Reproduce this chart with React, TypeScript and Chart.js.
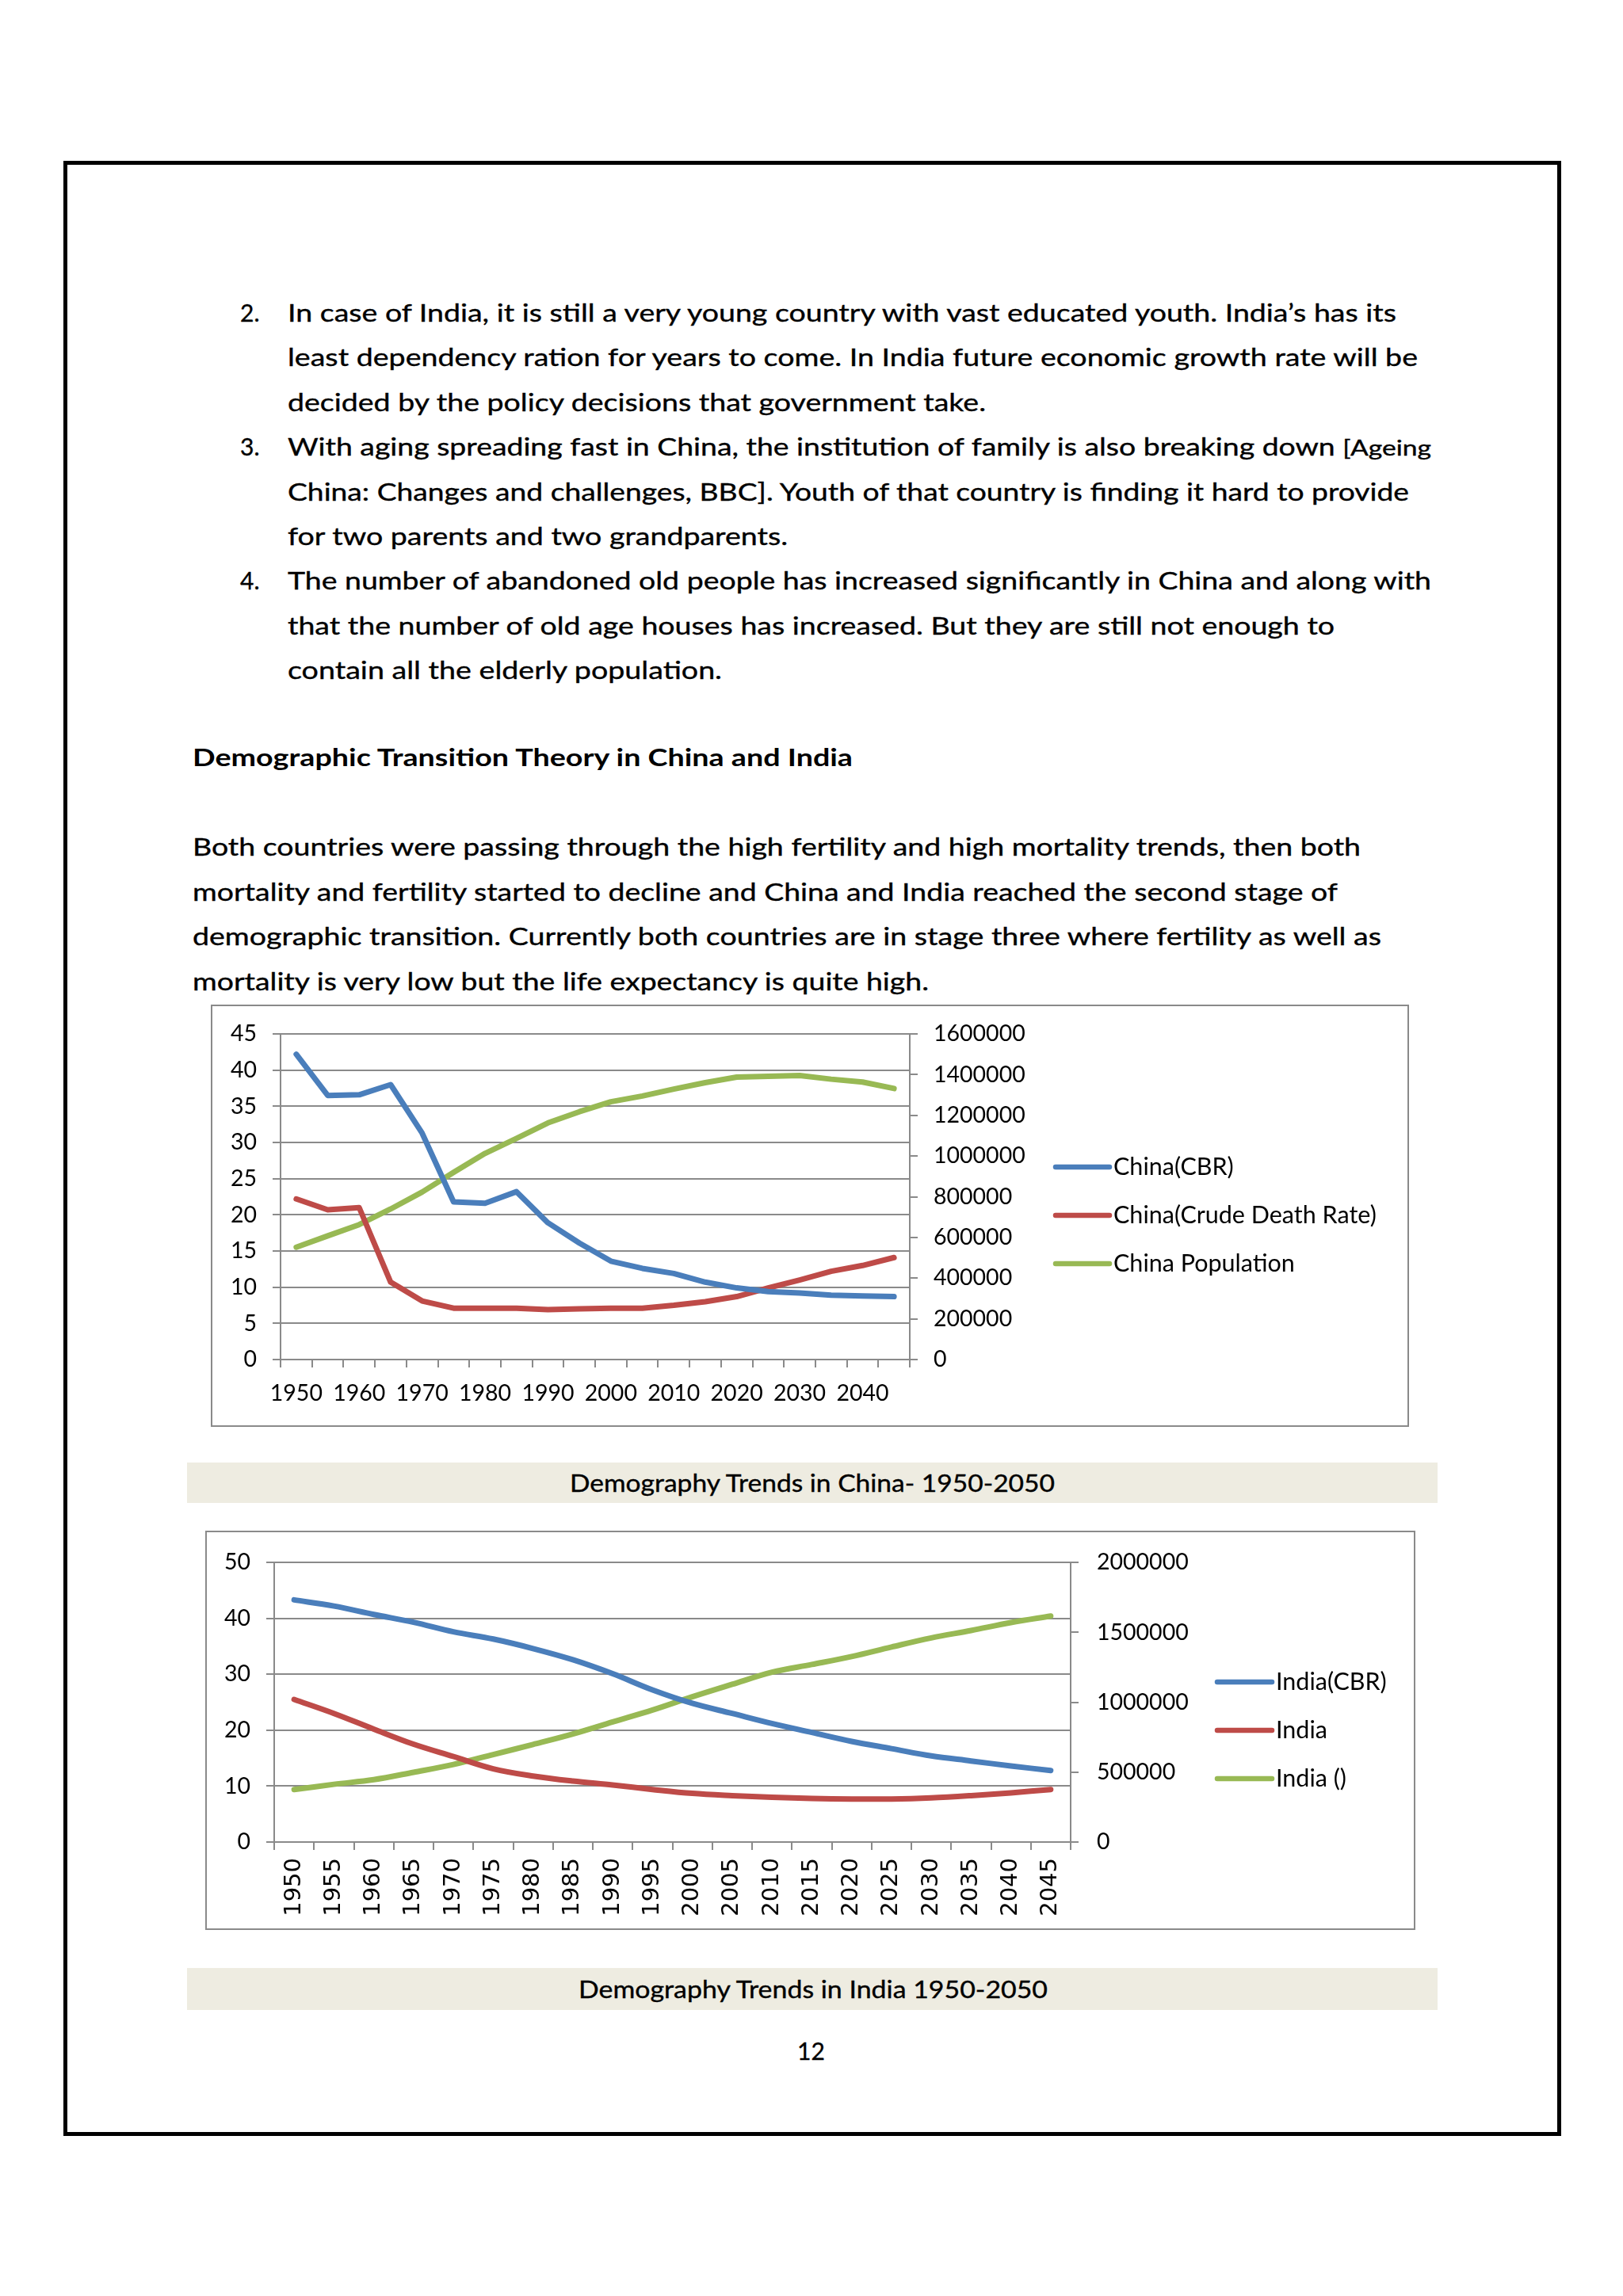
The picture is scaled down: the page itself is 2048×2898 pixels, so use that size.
import React, { useEffect, useLayoutEffect, useRef } from 'react';
import { Chart, registerables } from 'chart.js';

Chart.register(...registerables);

// ---------------- DATA ----------------
const YEARS = ['1950', '1955', '1960', '1965', '1970', '1975', '1980', '1985', '1990', '1995', '2000', '2005', '2010', '2015', '2020', '2025', '2030', '2035', '2040', '2045'];

const CHINA_CBR = [42.2, 36.5, 36.6, 38.0, 31.3, 21.8, 21.6, 23.2, 18.9, 16.1, 13.6, 12.6, 11.9, 10.7, 9.9, 9.4, 9.2, 8.9, 8.8, 8.7];
const CHINA_CDR = [22.2, 20.7, 21.0, 10.7, 8.1, 7.1, 7.1, 7.1, 6.9, 7.0, 7.1, 7.1, 7.5, 8.0, 8.7, 9.9, 11.0, 12.2, 13.0, 14.1];
const CHINA_POP = [552000, 608000, 663000, 740000, 823000, 920000, 1013000, 1087000, 1163000, 1218000, 1267000, 1295000, 1329000, 1361000, 1388000, 1392000, 1396000, 1378000, 1364000, 1332000];

const INDIA_CBR = [43.3, 42.2, 40.7, 39.3, 37.6, 36.3, 34.6, 32.6, 30.1, 27.2, 24.8, 23.0, 21.2, 19.6, 18.0, 16.7, 15.4, 14.5, 13.6, 12.8];
const INDIA_CDR = [25.5, 23.0, 20.2, 17.5, 15.3, 13.1, 11.8, 10.9, 10.2, 9.4, 8.7, 8.3, 8.0, 7.8, 7.7, 7.7, 7.9, 8.3, 8.8, 9.4];
const INDIA_POP = [375000, 413000, 446000, 499000, 555000, 626000, 698000, 773000, 859000, 944000, 1039000, 1128000, 1215000, 1270000, 1327000, 1395000, 1460000, 1513000, 1570000, 1617000];

const CHINA_LABELS = ['China(CBR)', 'China(Crude Death Rate)', 'China Population'];
const INDIA_LABELS = ['India(CBR)', 'India', 'India ()'];

const CHINA_LEFT_TICKS = { min: 0, max: 45, step: 5 };
const CHINA_RIGHT_TICKS = { min: 0, max: 1600000, step: 200000 };
const INDIA_LEFT_TICKS = { min: 0, max: 50, step: 10 };
const INDIA_RIGHT_TICKS = { min: 0, max: 2000000, step: 500000 };

// ---------------- STYLE ----------------
const BLUE = '#4A7EBB';
const RED = '#BE4B48';
const GREEN = '#98B954';
const GRID = '#8A8A8A';
const FONT = 'Lato';

const sideLegend = {
  id: 'sideLegend',
  afterDraw(chart: any, _args: any, opts: any) {
    const ctx = chart.ctx;
    ctx.save();
    chart.data.datasets.forEach((ds: any, i: number) => {
      const y = opts.y0 + i * opts.dy;
      ctx.strokeStyle = ds.borderColor;
      ctx.lineWidth = 6.5;
      ctx.lineCap = 'round';
      ctx.beginPath();
      ctx.moveTo(opts.x0, y);
      ctx.lineTo(opts.x1, y);
      ctx.stroke();
      ctx.fillStyle = '#000';
      ctx.font = `${opts.size}px ${FONT}`;
      ctx.textBaseline = 'middle';
      ctx.textAlign = 'left';
      ctx.fillText(ds.label, opts.tx, y);
    });
    ctx.restore();
  },
};

function buildConfig(p: any) {
  const tickFont = { family: FONT, size: 28.5 };
  return {
    type: 'line',
    data: {
      labels: YEARS,
      datasets: [
        { label: p.labels[0], data: p.a, borderColor: BLUE, yAxisID: 'y' },
        { label: p.labels[1], data: p.b, borderColor: RED, yAxisID: 'y' },
        { label: p.labels[2], data: p.c, borderColor: GREEN, yAxisID: 'y1' },
      ].map((d) => ({
        ...d,
        backgroundColor: d.borderColor,
        borderWidth: 7,
        pointRadius: 0,
        pointHoverRadius: 0,
        borderJoinStyle: 'round',
        borderCapStyle: 'round',
        tension: p.tension,
        fill: false,
      })),
    },
    options: {
      responsive: false,
      animation: false,
      devicePixelRatio: 1,
      layout: { padding: p.padding },
      plugins: {
        legend: { display: false },
        tooltip: { enabled: false },
        sideLegend: p.legend,
      },
      scales: {
        x: {
          type: 'category',
          offset: true,
          grid: { offset: true, drawOnChartArea: false, drawTicks: true, tickLength: 10, color: GRID, lineWidth: 2 },
          border: { display: true, color: GRID, width: 2 },
          ticks: {
            autoSkip: false,
            minRotation: p.rotation,
            maxRotation: p.rotation,
            padding: p.xPad,
            color: '#000',
            font: p.xFont,
            callback: function (this: any, v: any, i: number) {
              return i % p.every === 0 ? YEARS[i] : '';
            },
          },
          afterFit: (s: any) => {
            s.height = p.xHeight;
          },
        },
        y: {
          position: 'left',
          min: p.left.min,
          max: p.left.max,
          grid: { color: GRID, lineWidth: 2, tickLength: 10, drawTicks: true },
          border: { display: true, color: GRID, width: 2 },
          ticks: { stepSize: p.left.step, padding: p.lPad, color: '#000', font: tickFont },
          afterFit: (s: any) => {
            s.width = p.leftW;
          },
        },
        y1: {
          position: 'right',
          min: p.right.min,
          max: p.right.max,
          grid: { drawOnChartArea: false, color: GRID, lineWidth: 2, tickLength: 10, drawTicks: true },
          border: { display: true, color: GRID, width: 2 },
          ticks: {
            stepSize: p.right.step,
            padding: p.rPad,
            color: '#000',
            font: tickFont,
            callback: (v: any) => String(v),
          },
          afterFit: (s: any) => {
            s.width = 150;
          },
        },
      },
    },
    plugins: [sideLegend],
  };
}

function ChartBox(props: { x: number; y: number; w: number; h: number; params: any }) {
  const ref = useRef<HTMLCanvasElement>(null);
  useEffect(() => {
    if (!ref.current) return;
    const chart = new Chart(ref.current, buildConfig(props.params) as any);
    return () => chart.destroy();
  }, []);
  return (
    <div style={{ position: 'absolute', left: props.x, top: props.y, width: props.w, height: props.h }}>
      <canvas ref={ref} width={props.w} height={props.h} style={{ position: 'absolute', left: 0, top: 0, width: props.w, height: props.h }} />
      <div style={{ position: 'absolute', left: 0, top: 0, width: props.w, height: props.h, boxSizing: 'border-box', border: `2px solid ${GRID}`, pointerEvents: 'none' }} />
    </div>
  );
}

function TextLine(props: { x: number; cy: number; w?: number; size?: number; bold?: boolean; children: any }) {
  const ref = useRef<HTMLDivElement>(null);
  const h = 40;
  useLayoutEffect(() => {
    const el = ref.current;
    if (!el || !props.w) return;
    el.style.transform = 'none';
    const nat = el.getBoundingClientRect().width;
    if (nat > 0) el.style.transform = `scaleX(${props.w / nat})`;
  }, [props.w]);
  return (
    <div
      ref={ref}
      style={{
        position: 'absolute',
        left: props.x,
        top: props.cy - h / 2,
        height: h,
        lineHeight: `${h}px`,
        width: 'max-content',
        whiteSpace: 'nowrap',
        fontFamily: FONT,
        fontSize: props.size || 30,
        fontWeight: props.bold ? 700 : 400,
        color: '#000',
        WebkitTextStroke: props.bold ? '0' : '0.35px #000',
        transformOrigin: '0 50%',
      }}
    >
      {props.children}
    </div>
  );
}

const ITEM_LINES: [number, string | null, any, number][] = [
  [394, '2.', 'In case of India, it is still a very young country with vast educated youth. India\u2019s has its', 1399],
  [450, null, 'least dependency ration for years to come. In India future economic growth rate will be', 1426],
  [507, null, 'decided by the policy decisions that government take.', 881],
  [563, '3.', 'AGEING', 1443],
  [620, null, 'China: Changes and challenges, BBC]. Youth of that country is finding it hard to provide', 1415],
  [676, null, 'for two parents and two grandparents.', 631],
  [732, '4.', 'The number of abandoned old people has increased significantly in China and along with', 1443],
  [789, null, 'that the number of old age houses has increased. But they are still not enough to', 1321],
  [845, null, 'contain all the elderly population.', 548],
];

const PARA_LINES: [number, string, number][] = [
  [1068, 'Both countries were passing through the high fertility and high mortality trends, then both', 1474],
  [1125, 'mortality and fertility started to decline and China and India reached the second stage of', 1445],
  [1181, 'demographic transition. Currently both countries are in stage three where fertility as well as', 1500],
  [1238, 'mortality is very low but the life expectancy is quite high.', 929],
];

export default function App() {
  const chinaParams = {
    labels: CHINA_LABELS,
    a: CHINA_CBR,
    b: CHINA_CDR,
    c: CHINA_POP,
    left: CHINA_LEFT_TICKS,
    right: CHINA_RIGHT_TICKS,
    tension: 0,
    padding: { left: 0, top: 37, right: 480, bottom: 25 },
    leftW: 88,
    xHeight: 60,
    xPad: 16,
    lPad: 20,
    rPad: 20,
    rotation: 0,
    every: 2,
    xFont: { family: FONT, size: 28.5 },
    legend: { x0: 1066, x1: 1134, tx: 1139, y0: 205, dy: 61, size: 30.5 },
  };
  const indiaParams = {
    labels: INDIA_LABELS,
    a: INDIA_CBR,
    b: INDIA_CDR,
    c: INDIA_POP,
    left: INDIA_LEFT_TICKS,
    right: INDIA_RIGHT_TICKS,
    tension: 0.35,
    padding: { left: 0, top: 36, right: 285, bottom: 11 },
    leftW: 87,
    xHeight: 100,
    xPad: 10,
    lPad: 20,
    rPad: 23,
    rotation: 90,
    every: 1,
    xFont: { family: 'DejaVu Sans', size: 29 },
    legend: { x0: 1277, x1: 1346, tx: 1351, y0: 191, dy: 61, size: 30.5 },
  };

  return (
    <div style={{ position: 'absolute', left: 0, top: 0, width: 2048, height: 2898, background: '#fff', overflow: 'hidden' }}>
      <div style={{ position: 'absolute', left: 80, top: 203, width: 1890, height: 2493, boxSizing: 'border-box', border: '5px solid #000' }} />

      {ITEM_LINES.map(([cy, num, text, w], i) => (
        <React.Fragment key={i}>
          {num && <TextLine x={303} cy={cy}>{num}</TextLine>}
          <TextLine x={363} cy={cy} w={w}>
            {text === 'AGEING' ? (
              <>
                With aging spreading fast in China, the institution of family is also breaking down <span style={{ fontSize: 27 }}>[Ageing</span>
              </>
            ) : (
              text
            )}
          </TextLine>
        </React.Fragment>
      ))}

      <TextLine x={243} cy={955} w={833} bold>
        Demographic Transition Theory in China and India
      </TextLine>

      {PARA_LINES.map(([cy, text, w], i) => (
        <TextLine key={i} x={243} cy={cy} w={w}>
          {text}
        </TextLine>
      ))}

      <ChartBox x={266} y={1268} w={1512} h={533} params={chinaParams} />

      <div style={{ position: 'absolute', left: 236, top: 1846, width: 1578, height: 51, background: '#EEECE1' }} />
      <TextLine x={719} cy={1871} w={612}>
        Demography Trends in China- 1950-2050
      </TextLine>

      <ChartBox x={259} y={1932} w={1527} h={504} params={indiaParams} />

      <div style={{ position: 'absolute', left: 236, top: 2484, width: 1578, height: 53, background: '#EEECE1' }} />
      <TextLine x={730} cy={2510} w={592}>
        Demography Trends in India 1950-2050
      </TextLine>

      <TextLine x={1006} cy={2588}>
        12
      </TextLine>
    </div>
  );
}
